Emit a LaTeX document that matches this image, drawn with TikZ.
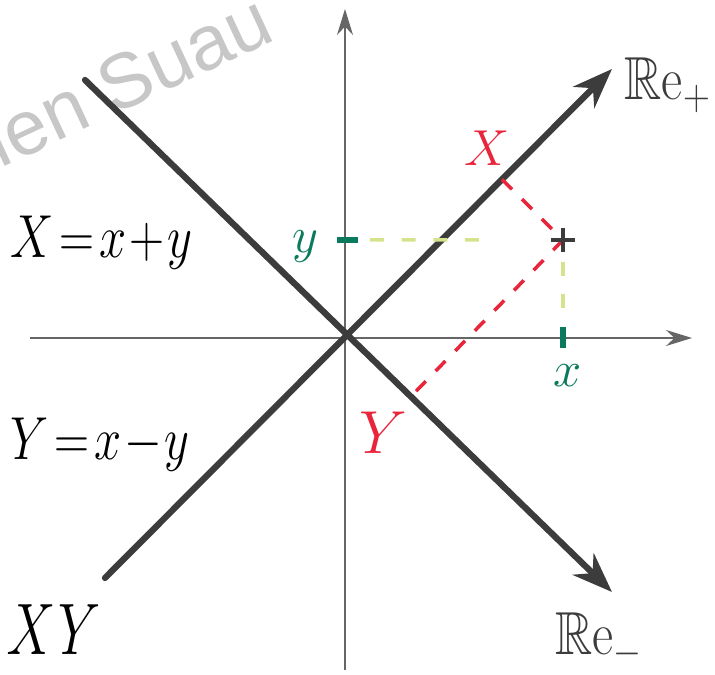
\documentclass[tikz,border=0pt]{standalone}
\usepackage{amssymb}
\usepackage{fontspec}
\newfontfamily\wmfont{Liberation Sans}
\usetikzlibrary{calc,arrows.meta}

\definecolor{penred}{HTML}{E8253A}
\definecolor{pengreen}{HTML}{0B7A5C}
\definecolor{penlime}{HTML}{D6E38C}
\definecolor{pengray}{HTML}{3C3C3C}

\begin{document}
\begin{tikzpicture}[
    axis/.style = {draw=gray!80!black, line width=0.45pt, -{Stealth[length=2.6mm, width=1.6mm]}},
    nullline/.style = {draw=pengray, line width=1.8pt, line cap=round, -{Stealth[length=4mm, width=3mm]}},
    proj/.style = {draw=penred, line width=1pt, dash pattern=on 4pt off 4pt},
    guide/.style = {draw=penlime, line width=1pt, dash pattern=on 4pt off 5pt},
    tick/.style = {draw=pengreen, line width=1.6pt},
    redlbl/.style = {text=penred, font=\Large},
    greenlbl/.style = {text=pengreen, font=\Large},
    eqn/.style = {font=\LARGE, anchor=base west, inner sep=0pt}
]
    % Picture frame
    \useasboundingbox (0,0) rectangle (7.15,6.75);
    \clip (0,0) rectangle (7.15,6.75);

    % Watermark
    \node[text=black!22, font=\wmfont\fontsize{22}{22}\selectfont, rotate=25, anchor=base east, inner sep=0pt] (wmark) at (2.78,6.36) {Julien Suau};

    % Origin and the point
    \coordinate (O) at (3.45,3.37);
    \coordinate (P) at (5.63,4.35);

    % Axes
    \coordinate (xl) at (0.30,3.37);
    \coordinate (xr) at (6.92,3.37);
    \coordinate (yb) at (3.45,0.05);
    \coordinate (yt) at (3.45,6.66);
    \draw[axis] (xl) -- (xr);
    \draw[axis] (yb) -- (yt);

    % Null lines through the origin
    \coordinate (Rpa) at (1.05,0.97);
    \coordinate (Rpb) at (6.12,6.06);
    \coordinate (Rma) at (0.85,5.95);
    \coordinate (Rmb) at (6.12,0.83);
    \draw[nullline] (Rpa) -- (Rpb);
    \draw[nullline] (Rma) -- (Rmb);

    % Feet of the point on both lines
    \coordinate (Xf) at ($(Rpa)!(P)!(Rpb)$);
    \coordinate (Yf) at ($(Rma)!(P)!(Rmb)$);
    \draw[proj] (Xf) -- (P);
    \draw[proj] (P) -- (Yf);

    % Ticks on the axes
    \coordinate (ty) at (3.45,4.35);
    \coordinate (tx) at (5.63,3.37);
    \draw[tick] ($(ty)+(-0.08,0)$) -- ($(ty)+(0.13,0)$);
    \draw[tick] ($(tx)+(0,0.11)$) -- ($(tx)+(0,-0.10)$);
    \draw[guide] ($(ty)+(0.25,0)$) -- ($(ty)!0.62!(P)$);
    \draw[guide] ($(P)+(0,-0.22)$) -- ($(tx)+(0,0.25)$);

    % The point
    \draw[pengray, line width=1.1pt] ($(P)+(-0.12,0)$) -- ($(P)+(0.12,0)$);
    \draw[pengray, line width=1.1pt] ($(P)+(0,-0.12)$) -- ($(P)+(0,0.12)$);

    % Labels
    \node[greenlbl] (ylbl) at (3.05,4.28) {$y$};
    \node[greenlbl] (xlbl) at (5.68,2.99) {$x$};
    \node[redlbl] (Xlbl) at (4.87,5.27) {$X$};
    \node[redlbl, font=\LARGE] (Ylbl) at (3.83,2.42) {$Y$};
    \node[eqn] (Xeq) at (0.10,4.17) {\scalebox{0.8}[1]{$X\!=\!x\!+\!y$}};
    \node[eqn] (Yeq) at (0.10,2.15) {\scalebox{0.8}[1]{$Y\!=\!x\!-\!y$}};
    \node[eqn, text=pengray] (Replus) at (6.24,5.75) {\scalebox{0.85}[1]{$\mathbb{R}\mathrm{e}_+$}};
    \node[eqn, text=pengray] (Reminus) at (5.55,0.20) {\scalebox{0.85}[1]{$\mathbb{R}\mathrm{e}_-$}};
    \node[eqn, font=\huge\itshape] (XY) at (0.05,0.20) {\scalebox{0.8}[1]{XY}};
\end{tikzpicture}
\end{document}
